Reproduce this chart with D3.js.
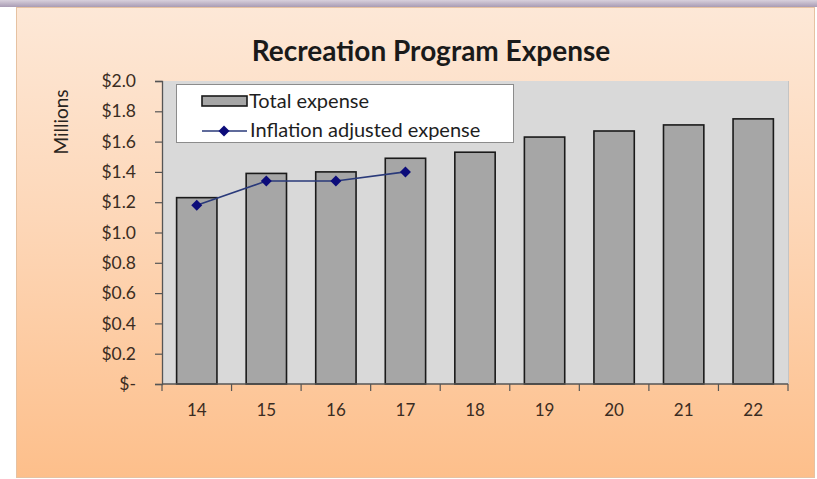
<!DOCTYPE html>
<html>
<head>
<meta charset="utf-8">
<script src="https://cdn.jsdelivr.net/npm/d3@7"></script>
<style>
  html, body { margin: 0; padding: 0; background: #ffffff; }
  svg { display: block; }
  text { font-family: Lato, "Open Sans", sans-serif; }
</style>
</head>
<body>
<svg id="chart" width="817" height="479"></svg>
<script>
// Fiscal years on the category axis
const years = ["14", "15", "16", "17", "18", "19", "20", "21", "22"];
// Total expense, $ millions
const totalExpense = [1.23, 1.39, 1.40, 1.49, 1.53, 1.63, 1.67, 1.71, 1.75];
// Inflation adjusted expense, $ millions (first four years only)
const inflationAdjusted = [1.18, 1.34, 1.34, 1.40];
// Value axis ticks
const yTicks = [0, 0.2, 0.4, 0.6, 0.8, 1.0, 1.2, 1.4, 1.6, 1.8, 2.0];

const svg = d3.select("#chart");
const defs = svg.append("defs");

const bg = defs.append("linearGradient").attr("id", "panelFill")
  .attr("x1", 0).attr("y1", 0).attr("x2", 0).attr("y2", 1);
bg.append("stop").attr("offset", "0%").attr("stop-color", "#fde8d7");
bg.append("stop").attr("offset", "45%").attr("stop-color", "#fdd7b8");
bg.append("stop").attr("offset", "100%").attr("stop-color", "#fdbf8b");

const topStrip = defs.append("linearGradient").attr("id", "stripFill")
  .attr("x1", 0).attr("y1", 0).attr("x2", 0).attr("y2", 1);
topStrip.append("stop").attr("offset", "0%").attr("stop-color", "#d8d0dc");
topStrip.append("stop").attr("offset", "100%").attr("stop-color", "#a99cb4");

// Frame
svg.append("rect").attr("x", 0).attr("y", 0).attr("width", 817).attr("height", 7)
  .attr("fill", "url(#stripFill)");
svg.append("rect").attr("x", 16.5).attr("y", 7.5).attr("width", 798).attr("height", 470)
  .attr("fill", "url(#panelFill)").attr("stroke", "#e6c2a2").attr("stroke-width", 1);

// Plot geometry
const plot = { left: 162, right: 788, top: 81, bottom: 384 };

const x = d3.scaleBand().domain(years).range([plot.left, plot.right]).padding(0);
const y = d3.scaleLinear().domain([0, 2]).range([plot.bottom, plot.top]);
const barW = x.bandwidth() * 0.58;

// Plot area
svg.append("rect")
  .attr("x", plot.left).attr("y", plot.top)
  .attr("width", plot.right - plot.left).attr("height", plot.bottom - plot.top)
  .attr("fill", "#d9d9d9");
svg.append("line")
  .attr("x1", plot.right + 0.5).attr("x2", plot.right + 0.5)
  .attr("y1", plot.top).attr("y2", plot.bottom)
  .attr("stroke", "#c4c4c4");

// Bars
svg.append("g").selectAll("rect")
  .data(totalExpense)
  .join("rect")
  .attr("x", (d, i) => x(years[i]) + (x.bandwidth() - barW) / 2)
  .attr("y", d => y(d))
  .attr("width", barW)
  .attr("height", d => y(0) - y(d))
  .attr("fill", "#a6a6a6")
  .attr("stroke", "#1a1a1a")
  .attr("stroke-width", 1.6);

// Value axis
const yAxis = svg.append("g")
  .attr("transform", `translate(${plot.left},0)`)
  .call(d3.axisLeft(y).tickValues(yTicks).tickSize(7).tickPadding(19)
    .tickFormat(d => d === 0 ? "$-" : "$" + d.toFixed(1)));
yAxis.select(".domain").attr("stroke", "#555").attr("stroke-width", 1.3);
yAxis.selectAll(".tick line").attr("stroke", "#555").attr("stroke-width", 1.2);
yAxis.selectAll(".tick text")
  .attr("font-size", 17.5).attr("fill", "#3a2c22")
  .style("font-family", "Lato, sans-serif");

// Category axis: labels at band centres, tick marks on band edges
const xAxis = svg.append("g")
  .attr("transform", `translate(0,${plot.bottom})`)
  .call(d3.axisBottom(x).tickSize(0).tickPadding(20));
xAxis.select(".domain").remove();
xAxis.selectAll(".tick text")
  .attr("font-size", 17).attr("fill", "#3a2c22")
  .style("font-family", "Lato, sans-serif");

const edges = years.map(d => x(d)).concat([x.range()[1]]);
svg.append("line")
  .attr("x1", plot.left).attr("x2", plot.right)
  .attr("y1", plot.bottom).attr("y2", plot.bottom)
  .attr("stroke", "#555").attr("stroke-width", 1.3);
svg.append("g").selectAll("line")
  .data(edges)
  .join("line")
  .attr("x1", d => d).attr("x2", d => d)
  .attr("y1", plot.bottom).attr("y2", plot.bottom + 7)
  .attr("stroke", "#555").attr("stroke-width", 1.2);

// Inflation adjusted line with diamond markers
const line = d3.line()
  .x((d, i) => x(years[i]) + x.bandwidth() / 2)
  .y(d => y(d));
svg.append("path")
  .datum(inflationAdjusted)
  .attr("d", line)
  .attr("fill", "none")
  .attr("stroke", "#2a3a7a")
  .attr("stroke-width", 1.6);
const diamondPath = "M0,-5.5L5.5,0L0,5.5L-5.5,0Z";
svg.append("g").selectAll("path")
  .data(inflationAdjusted)
  .join("path")
  .attr("d", diamondPath)
  .attr("transform", (d, i) => `translate(${x(years[i]) + x.bandwidth() / 2},${y(d)})`)
  .attr("fill", "#0c0c7a");

// Title
svg.append("text")
  .attr("x", 431).attr("y", 61)
  .attr("text-anchor", "middle")
  .attr("font-size", 28).attr("font-weight", "bold")
  .attr("fill", "#1a1a1a")
  .text("Recreation Program Expense");

// Axis title
svg.append("text")
  .attr("transform", "translate(68,122) rotate(-90)")
  .attr("text-anchor", "middle")
  .attr("font-size", 19)
  .attr("fill", "#2a2420")
  .text("Millions");

// Legend
const legend = svg.append("g");
legend.append("rect")
  .attr("x", 176.5).attr("y", 84.5).attr("width", 337).attr("height", 58)
  .attr("fill", "#ffffff").attr("stroke", "#8c8c8c");
legend.append("rect")
  .attr("x", 202).attr("y", 96).attr("width", 45).attr("height", 10)
  .attr("fill", "#a6a6a6").attr("stroke", "#1a1a1a").attr("stroke-width", 1.6);
legend.append("text")
  .attr("x", 249).attr("y", 108)
  .attr("font-size", 20).attr("fill", "#1e1e1e")
  .text("Total expense");
legend.append("line")
  .attr("x1", 202).attr("x2", 247).attr("y1", 131).attr("y2", 131)
  .attr("stroke", "#2a3a7a").attr("stroke-width", 1.6);
legend.append("path")
  .attr("d", diamondPath)
  .attr("transform", "translate(224,131)")
  .attr("fill", "#0c0c7a");
legend.append("text")
  .attr("x", 250).attr("y", 137)
  .attr("font-size", 20).attr("fill", "#1e1e1e")
  .text("Inflation adjusted expense");
</script>
</body>
</html>
